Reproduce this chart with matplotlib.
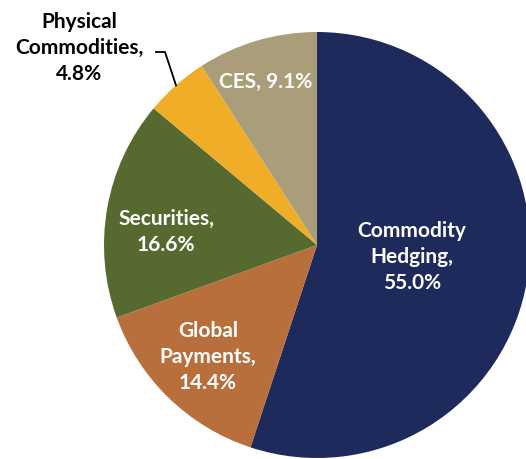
import numpy as np
import matplotlib.pyplot as plt

segments = ['Commodity\nHedging', 'Global\nPayments', 'Securities', 'Physical\nCommodities', 'CES']
shares = [55.0, 14.4, 16.6, 4.8, 9.1]
colors = ['#1F2A5C', '#B96F3B', '#566A30', '#F0AD28', '#AA9D79']

plt.rcParams['font.family'] = ['Lato', 'DejaVu Sans']

W, H = 526, 460
fig = plt.figure(figsize=(W / 100, H / 100), dpi=100)
ax = fig.add_axes([0, 0, 1, 1])

cx, cy, r = 317, H - 246, 213
wedges, _ = ax.pie(shares, colors=colors, startangle=90, counterclock=False,
                   center=(cx, cy), radius=r, frame=True,
                   wedgeprops=dict(linewidth=0))
ax.set_xlim(0, W)
ax.set_ylim(0, H)
ax.axis('off')

label_kw = dict(ha='center', va='center', fontsize=15, fontweight='bold',
                linespacing=1.38)

# label anchors (pixel offsets from the pie centre, y up)
offsets = [(95, -11), (-109, -111), (-151, 14), None, (-51, 164)]
for name, val, off in zip(segments, shares, offsets):
    if off is None:
        continue
    sep = ' ' if name == 'CES' else '\n'
    ax.text(cx + off[0], cy + off[1], f'{name},{sep}{val:.1f}%',
            color='white', **label_kw)

# small slice gets an outside label with a leader line
w = wedges[3]
mid = np.deg2rad((w.theta1 + w.theta2) / 2)
ex, ey = cx + r * np.cos(mid), cy + r * np.sin(mid)
ax.plot([ex, 165, 156], [ey, H - 53, H - 53], color='black', lw=1.3)
ax.text(79, H - 48, f'{segments[3]},\n{shares[3]:.1f}%', color='black', **label_kw)

fig.savefig('out.png', dpi=100)
